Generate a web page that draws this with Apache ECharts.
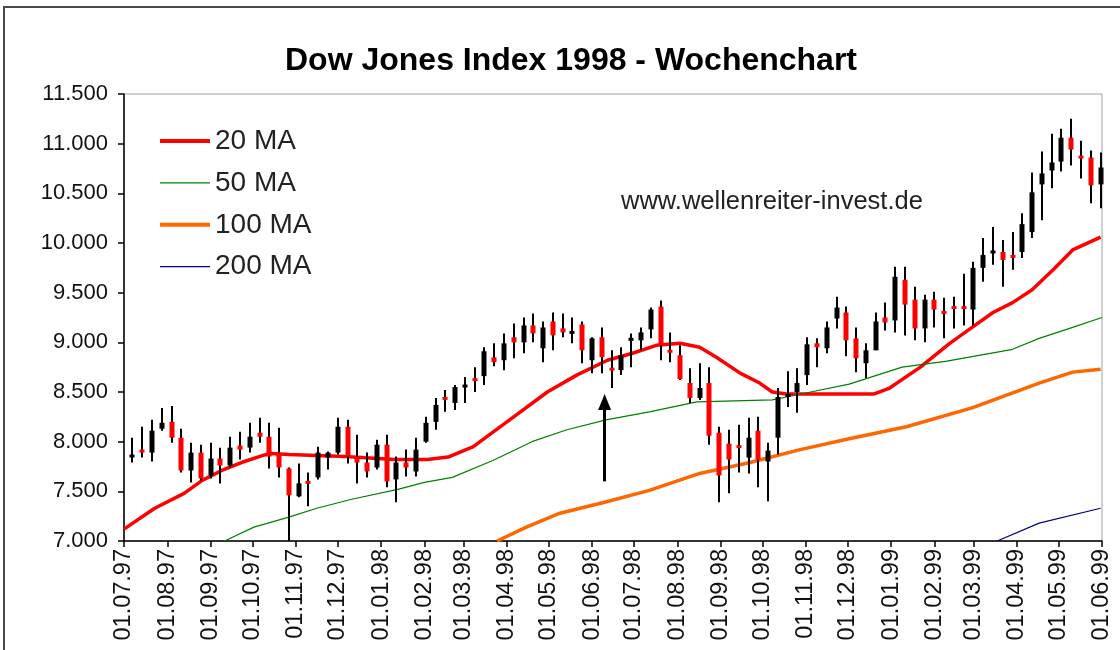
<!DOCTYPE html>
<html>
<head>
<meta charset="utf-8">
<title>Dow Jones Index 1998 - Wochenchart</title>
<script src="https://cdn.jsdelivr.net/npm/echarts@6.0.0/dist/echarts.min.js"></script>
<style>
  html, body { margin: 0; padding: 0; background: #fff; }
  #chart { width: 1120px; height: 650px; }
</style>
</head>
<body>
<div id="chart"></div>
<script>
// weekly bars, one per Monday starting 07.07.1997
const firstMonday = [1997, 6, 7]
const opens = [
  7840, 7920, 7890, 8130, 8200, 8040, 7710, 7890, 7660, 7830,
  7760, 7960, 7940, 8090, 8050, 7890, 7730, 7450, 7600, 7640,
  7840, 7890, 8150, 7850, 7790, 7740, 7970, 7620, 7790, 7700,
  8000, 8200, 8450, 8390, 8550, 8640, 8660, 8850, 8820, 9050,
  9000, 9170, 8940, 9210, 9140, 9090, 9180, 8820, 9050, 8740,
  8720, 9020, 9020, 9130, 9360, 8920, 8870, 8590, 8440, 8590,
  8090, 7980, 7960, 7840, 8110, 7800, 8040, 8450, 8500, 8670,
  8990, 8940, 9240, 9300, 9040, 8790, 8920, 9250, 9220, 9630,
  9430, 9140, 9430, 9310, 9360, 9360, 9330, 9750, 9900, 9910,
  9880, 9910, 10110, 10590, 10730, 10820, 11060, 10870, 10860, 10590
]
const closes = [
  7870, 7890, 8110, 8190, 8040, 7710, 7890, 7630, 7830, 7760,
  7940, 7920, 8050, 8050, 7850, 7740, 7460, 7580, 7580, 7890,
  7890, 8150, 7850, 7790, 7700, 7970, 7600, 7790, 7740, 7920,
  8190, 8370, 8420, 8550, 8570, 8610, 8910, 8800, 8990, 9000,
  9170, 9090, 9150, 9070, 9100, 9110, 8920, 9040, 8850, 8720,
  8870, 9040, 9100, 9330, 8970, 8900, 8630, 8440, 8540, 8060,
  7660, 7820, 7940, 8040, 7820, 7910, 8450, 8480, 8590, 8980,
  8950, 9150, 9350, 9020, 8840, 8920, 9210, 9200, 9660, 9380,
  9140, 9430, 9330, 9290, 9340, 9340, 9750, 9880, 9920, 9830,
  9850, 10190, 10510, 10700, 10810, 11060, 10940, 10860, 10580, 10760
]
const lows = [
  7790, 7840, 7800, 8110, 7990, 7690, 7590, 7610, 7630, 7580,
  7740, 7820, 7890, 7990, 7730, 7640, 7000, 7440, 7350, 7620,
  7720, 7870, 7780, 7580, 7640, 7720, 7540, 7390, 7650, 7650,
  7990, 8120, 8300, 8320, 8390, 8500, 8570, 8760, 8720, 8840,
  8890, 9000, 8800, 8920, 9050, 8990, 8790, 8690, 8690, 8540,
  8670, 8750, 8920, 9040, 8820, 8800, 8620, 8390, 8420, 7970,
  7390, 7480, 7690, 7680, 7540, 7400, 7870, 8350, 8290, 8570,
  8750, 8890, 9140, 8860, 8700, 8640, 8920, 9120, 9100, 9070,
  9020, 9000, 9150, 9040, 9140, 9170, 9170, 9610, 9780, 9560,
  9730, 9850, 10050, 10230, 10550, 10720, 10780, 10650, 10400, 10350
]
const highs = [
  8040, 8150, 8220, 8340, 8360, 8130, 7990, 7970, 7990, 7940,
  8050, 8100, 8190, 8240, 8190, 8140, 7740, 7780, 7690, 7950,
  7900, 8240, 8220, 8070, 7890, 8020, 8070, 7850, 7920, 8040,
  8250, 8440, 8520, 8570, 8650, 8750, 8950, 8990, 9090, 9190,
  9250, 9290, 9210, 9300, 9290, 9250, 9210, 9050, 9150, 8920,
  8950, 9090, 9150, 9350, 9420, 9100, 8970, 8740, 8790, 8750,
  8150, 8120, 8170, 8240, 8250, 7990, 8540, 8710, 8740, 9050,
  9040, 9210, 9460, 9360, 9150, 8990, 9300, 9400, 9760, 9760,
  9560, 9480, 9510, 9450, 9460, 9690, 9810, 10050, 10160, 10030,
  10110, 10300, 10710, 10920, 11100, 11150, 11250, 11030, 10930, 10910
]

// moving averages
const ma20Dates = ['1997-07-01', '1997-07-23', '1997-08-13', '1997-08-26', '1997-09-09', '1997-09-23',
  '1997-10-08', '1997-10-14', '1997-10-27', '1997-12-06', '1998-01-11', '1998-02-03', '1998-02-18',
  '1998-03-08', '1998-04-03', '1998-04-30', '1998-05-21', '1998-06-12', '1998-06-30', '1998-07-17',
  '1998-08-03', '1998-08-17', '1998-08-29', '1998-09-15', '1998-09-29', '1998-10-08', '1998-10-18',
  '1998-12-20', '1998-12-31', '1999-01-22', '1999-02-12', '1999-02-28', '1999-03-15', '1999-03-29',
  '1999-04-12', '1999-04-27', '1999-05-11', '1999-05-31']
const ma20Values = [7120, 7330, 7480, 7610, 7710, 7790,
  7860, 7880, 7870, 7850, 7820, 7820, 7845,
  7950, 8220, 8500, 8670, 8820, 8890, 8970,
  8990, 8950, 8850, 8690, 8590, 8500, 8480,
  8480, 8540, 8750, 8990, 9150, 9300, 9400,
  9530, 9730, 9930, 10060]

const ma50Dates = ['1997-09-11', '1997-10-02', '1997-10-27', '1997-11-16', '1997-12-11', '1998-01-13',
  '1998-02-01', '1998-02-21', '1998-03-22', '1998-04-19', '1998-05-14', '1998-06-11', '1998-07-12',
  '1998-08-15', '1998-10-08', '1998-11-01', '1998-12-02', '1999-01-09', '1999-02-10', '1999-03-29',
  '1999-04-17', '1999-05-11', '1999-06-01']
const ma50Values = [7000, 7140, 7240, 7330, 7420, 7520,
  7590, 7640, 7810, 8000, 8120, 8220, 8300,
  8400, 8420, 8490, 8580, 8750, 8810, 8930,
  9040, 9150, 9250]

const ma100Dates = ['1998-03-25', '1998-04-15', '1998-05-09', '1998-06-10', '1998-07-12', '1998-08-17',
  '1998-09-22', '1998-10-28', '1998-12-02', '1999-01-12', '1999-02-28', '1999-04-17', '1999-05-11',
  '1999-05-31']
const ma100Values = [7000, 7140, 7280, 7390, 7510, 7680,
  7790, 7920, 8030, 8150, 8340, 8590, 8700,
  8730]

const ma200Dates = ['1999-03-18', '1999-04-17', '1999-05-31']
const ma200Values = [7000, 7180, 7330]

// the arrow drawn into the chart
const arrowDate = '1998-06-10'
const arrowFrom = 7600
const arrowTo = 8400

function ts(s) {
	const p = s.split('-').map(Number)
	return new Date(p[0], p[1] - 1, p[2]).getTime()
}

function pad(n) {
	return (n < 10 ? '0' : '') + n
}

function pairs(dates, values) {
	return dates.map((d, i) => [ts(d), values[i]])
}

const candleData = opens.map((o, i) => [
	new Date(firstMonday[0], firstMonday[1], firstMonday[2] + 7 * i).getTime(),
	o, closes[i], lows[i], highs[i]
])

function renderCandle(params, api) {
	const t = api.value(0)
	const o = api.value(1)
	const c = api.value(2)
	const pLow = api.coord([t, api.value(3)])
	const pHigh = api.coord([t, api.value(4)])
	const pO = api.coord([t, o])
	const pC = api.coord([t, c])
	const x = Math.round(pHigh[0])
	const h = Math.abs(pO[1] - pC[1])
	const bodyH = Math.max(h, 3)
	const top = Math.min(pO[1], pC[1]) - (bodyH - h) / 2
	return {
		type: 'group',
		children: [{
			type: 'line',
			shape: { x1: x, y1: pHigh[1], x2: x, y2: pLow[1] },
			style: { stroke: '#000', lineWidth: 2 }
		}, {
			type: 'rect',
			shape: { x: x - 2.5, y: top, width: 5, height: bodyH },
			style: { fill: c >= o ? '#000' : '#ff0000' }
		}]
	}
}

// legend keys: plain strokes, thick or thin (corner moves keep the box size)
const thickKey = 'path://M0,0 M50,26 M0,11 L50,11 L50,15 L0,15 Z'
const thinKey = 'path://M0,0 M50,26 M0,12.4 L50,12.4 L50,13.6 L0,13.6 Z'

const font = 'Liberation Sans, Arial, sans-serif'
const chart = echarts.init(document.getElementById('chart'))

chart.setOption({
	animation: false,
	title: {
		text: 'Dow Jones Index 1998 - Wochenchart',
		left: 280,
		top: 40,
		textStyle: { fontFamily: font, fontSize: 32, fontWeight: 'bold', color: '#000' }
	},
	graphic: [{
		type: 'rect',
		shape: { x: 4, y: 7, width: 1140, height: 700 },
		style: { fill: 'none', stroke: '#4a4a4a', lineWidth: 2 },
		silent: true
	}, {
		type: 'text',
		left: 621,
		top: 189,
		style: { text: 'www.wellenreiter-invest.de', font: '25.5px ' + font, fill: '#222' },
		silent: true
	}],
	legend: {
		orient: 'vertical',
		left: 155,
		top: 122,
		itemWidth: 50,
		itemHeight: 26,
		itemGap: 13.9,
		data: [
			{ name: '20 MA', icon: thickKey },
			{ name: '50 MA', icon: thinKey },
			{ name: '100 MA', icon: thickKey },
			{ name: '200 MA', icon: thinKey }
		],
		textStyle: { fontFamily: font, fontSize: 28, color: '#222' }
	},
	grid: {
		left: 124,
		right: 18,
		top: 94,
		bottom: 109,
		show: true,
		borderColor: '#a0a0a0',
		borderWidth: 1
	},
	xAxis: {
		type: 'time',
		min: ts('1997-07-01'),
		max: ts('1999-06-01'),
		splitNumber: 23,
		minInterval: 28 * 86400000,
		maxInterval: 31 * 86400000,
		axisLine: { lineStyle: { color: '#000', width: 1.5 } },
		axisTick: { show: true, length: 6, lineStyle: { color: '#000', width: 1.5 } },
		axisLabel: {
			rotate: 90,
			margin: 8,
			color: '#111',
			fontFamily: font,
			fontSize: 23.5,
			formatter: function (v) {
				const d = new Date(v)
				return pad(d.getDate()) + '.' + pad(d.getMonth() + 1) + '.' + String(d.getFullYear()).slice(2)
			}
		},
		splitLine: { show: false }
	},
	yAxis: {
		type: 'value',
		min: 7000,
		max: 11500,
		interval: 500,
		axisLine: { show: true, lineStyle: { color: '#000', width: 1.5 } },
		axisTick: { show: true, length: 6, lineStyle: { color: '#000', width: 1.5 } },
		axisLabel: {
			margin: 16,
			color: '#111',
			fontFamily: font,
			fontSize: 22,
			formatter: function (v) {
				const s = String(v)
				return s.length > 3 ? s.slice(0, -3) + '.' + s.slice(-3) : s
			}
		},
		splitLine: { show: false }
	},
	series: [{
		name: '20 MA',
		type: 'line',
		symbol: 'none',
		z: 3,
		data: pairs(ma20Dates, ma20Values),
		itemStyle: { color: '#ff0000' },
		lineStyle: { color: '#ff0000', width: 3.5 }
	}, {
		name: '50 MA',
		type: 'line',
		symbol: 'none',
		z: 3,
		data: pairs(ma50Dates, ma50Values),
		itemStyle: { color: '#008000' },
		lineStyle: { color: '#008000', width: 1.2 },
		markLine: {
			silent: true,
			symbol: ['none', 'triangle'],
			symbolSize: [13, 16],
			label: { show: false },
			lineStyle: { color: '#000', width: 3, type: 'solid' },
			data: [[{ coord: [ts(arrowDate), arrowFrom] }, { coord: [ts(arrowDate), arrowTo] }]]
		}
	}, {
		name: '100 MA',
		type: 'line',
		symbol: 'none',
		z: 3,
		data: pairs(ma100Dates, ma100Values),
		itemStyle: { color: '#ff6600' },
		lineStyle: { color: '#ff6600', width: 3.5 }
	}, {
		name: '200 MA',
		type: 'line',
		symbol: 'none',
		z: 3,
		data: pairs(ma200Dates, ma200Values),
		itemStyle: { color: '#000080' },
		lineStyle: { color: '#000080', width: 1.2 }
	}, {
		name: 'Dow Jones',
		type: 'custom',
		z: 4,
		renderItem: renderCandle,
		encode: { x: 0, y: [1, 2, 3, 4] },
		data: candleData
	}]
})
</script>
</body>
</html>
